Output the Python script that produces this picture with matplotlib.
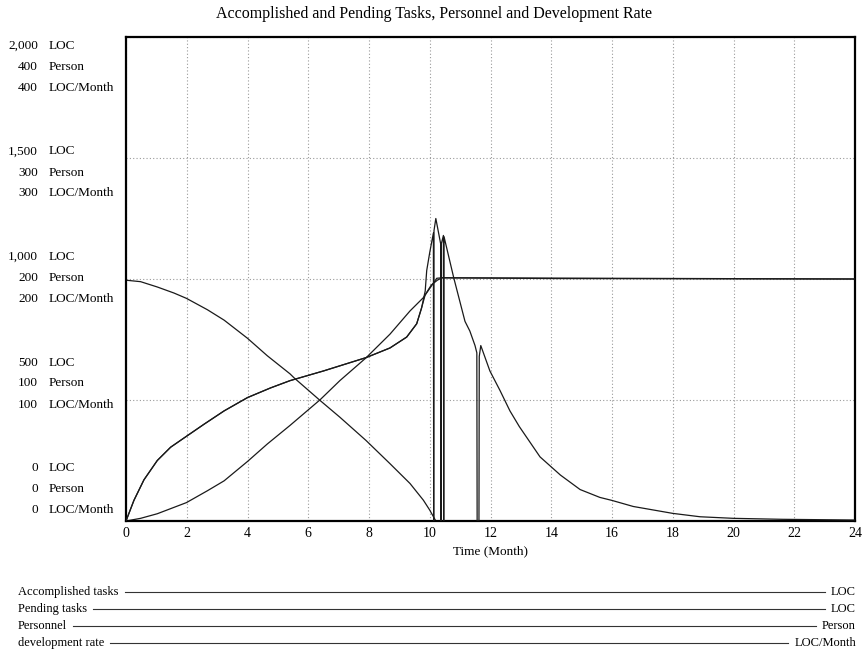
import matplotlib
matplotlib.use('Agg')
import matplotlib.pyplot as plt
from matplotlib.lines import Line2D

plt.rcParams['font.family'] = ['Liberation Serif', 'DejaVu Serif']

# time (Month) and values
t_pend = [0, 0.48, 1.03, 1.58, 1.99, 2.68, 3.23, 4.0, 4.65, 5.4, 5.53, 6.39, 7.04,
          7.9, 8.69, 9.35, 9.79, 10.0, 10.2, 24]
pending = [995, 989, 967, 942, 920, 873, 830, 755, 683, 608, 592, 498, 429,
           333, 237, 155, 86, 45, 0, 0]

t_acc = [0, 0.48, 1.03, 1.99, 2.68, 3.23, 4.0, 4.65, 5.4, 6.39, 7.04, 7.9, 8.69,
         9.35, 9.79, 10.17, 10.23, 10.4, 14, 24]
accomplished = [0, 11, 30, 76, 125, 166, 246, 318, 395, 501, 580, 674, 772,
                868, 923, 992, 1003, 1005, 1002, 1000]

t_rate = [0, 0.26, 0.59, 1.03, 1.47, 1.99, 2.57, 3.23, 4.0, 4.76, 5.4, 6.5, 7.9,
          8.69, 9.24, 9.57, 9.73, 9.85, 9.9, 10.0, 10.12, 10.13, 10.14, 10.2,
          10.36, 10.37, 10.38, 10.45, 10.46, 10.47, 10.79, 11.16, 11.32, 11.49,
          11.55, 11.56, 11.62, 11.63, 11.68, 11.98, 12.31, 12.64, 12.95, 13.63,
          14.3, 14.95, 15.6, 16.0, 16.7, 18.0, 18.9, 20.0, 21.6, 24.0]
dev_rate = [0, 17, 34, 50, 61, 70, 80, 91, 102, 110, 116, 124, 135,
            143, 152, 163, 176, 190, 207, 222, 238, 0, 240, 250,
            229, 0, 229, 236, 0, 235, 201, 165, 157, 145,
            139, 0, 0, 136, 145, 124, 108, 91, 78, 53,
            38, 26, 19.5, 17, 12, 6.3, 3.5, 2.2, 1.4, 0.8]

t_pers = [0, 0.26, 0.59, 1.03, 1.47, 1.99, 2.57, 3.23, 4.0, 4.76, 5.4, 6.5, 7.9,
          8.69, 9.24, 9.57, 9.73, 9.85, 10.05, 10.25, 10.4, 24]
personnel = [0, 17, 34, 50, 61, 70, 80, 91, 102, 110, 116, 124, 135,
             143, 152, 163, 176, 187, 195, 199, 201, 200]

x_ticks = list(range(0, 25, 2))
loc_ticks = [0, 500, 1000, 1500, 2000]
person_ticks = [0, 100, 200, 300, 400]
rate_ticks = [0, 100, 200, 300, 400]

legend_names = ['Accomplished tasks', 'Pending tasks', 'Personnel', 'development rate']
legend_units = ['LOC', 'LOC', 'Person', 'LOC/Month']

W, H = 867, 666
fig = plt.figure(figsize=(W / 100, H / 100), dpi=100)
ax = fig.add_axes([126 / W, 1 - 521 / H, 729 / W, 484 / H])
ax_p = ax.twinx()
ax_r = ax.twinx()

line_kw = dict(color='#1a1a1a', lw=0.9)
ax.plot(t_acc, accomplished, **line_kw)
ax.plot(t_pend, pending, **line_kw)
ax_p.plot(t_pers, personnel, **line_kw)
ax_r.plot(t_rate, dev_rate, **line_kw)

ax.set_xlim(0, 24)
ax.set_ylim(0, 2000)
ax_p.set_ylim(0, 400)
ax_r.set_ylim(0, 400)

for a in (ax_p, ax_r):
    a.set_yticks([])
    for s in a.spines.values():
        s.set_visible(False)

ax.set_xticks(x_ticks)
ax.set_yticks(loc_ticks)
ax.set_yticklabels([])
ax.tick_params(length=0, labelsize=10, pad=4)
ax.grid(True, color='#9a9a9a', linestyle=(0, (1, 2)), lw=0.8)
for s in ax.spines.values():
    s.set_linewidth(1.6)
    s.set_color('black')
ax.set_xlabel('Time (Month)', fontsize=9.5, labelpad=4)

# three-line y labels, one group per tick
for v, p, r in zip(loc_ticks, person_ticks, rate_ticks):
    yc = 489 - v / 2000 * 422
    rows = [f'{v:,}', f'{p}', f'{r}']
    units = ['LOC', 'Person', 'LOC/Month']
    for k in range(3):
        yy = 1 - (yc + (k - 1) * 21) / H
        fig.text(38 / W, yy, rows[k], ha='right', va='center', fontsize=9.5)
        fig.text(49 / W, yy, units[k], ha='left', va='center', fontsize=9.5)

fig.text(0.5, 1 - 14 / H, 'Accomplished and Pending Tasks, Personnel and Development Rate',
         ha='center', va='center', fontsize=11.5)

# legend rows at the bottom
fig.canvas.draw()
renderer = fig.canvas.get_renderer()
for i, (name, unit) in enumerate(zip(legend_names, legend_units)):
    yy = 1 - (592 + i * 17) / H
    t1 = fig.text(18 / W, yy, name, ha='left', va='center', fontsize=9)
    t2 = fig.text(856 / W, yy, unit, ha='right', va='center', fontsize=9)
    b1 = t1.get_window_extent(renderer)
    b2 = t2.get_window_extent(renderer)
    x0 = (b1.x1 + 6) / W
    x1 = (b2.x0 - 6) / W
    fig.add_artist(Line2D([x0, x1], [yy, yy], transform=fig.transFigure,
                          color='#333333', lw=0.8))

fig.savefig('out.png', dpi=100)
